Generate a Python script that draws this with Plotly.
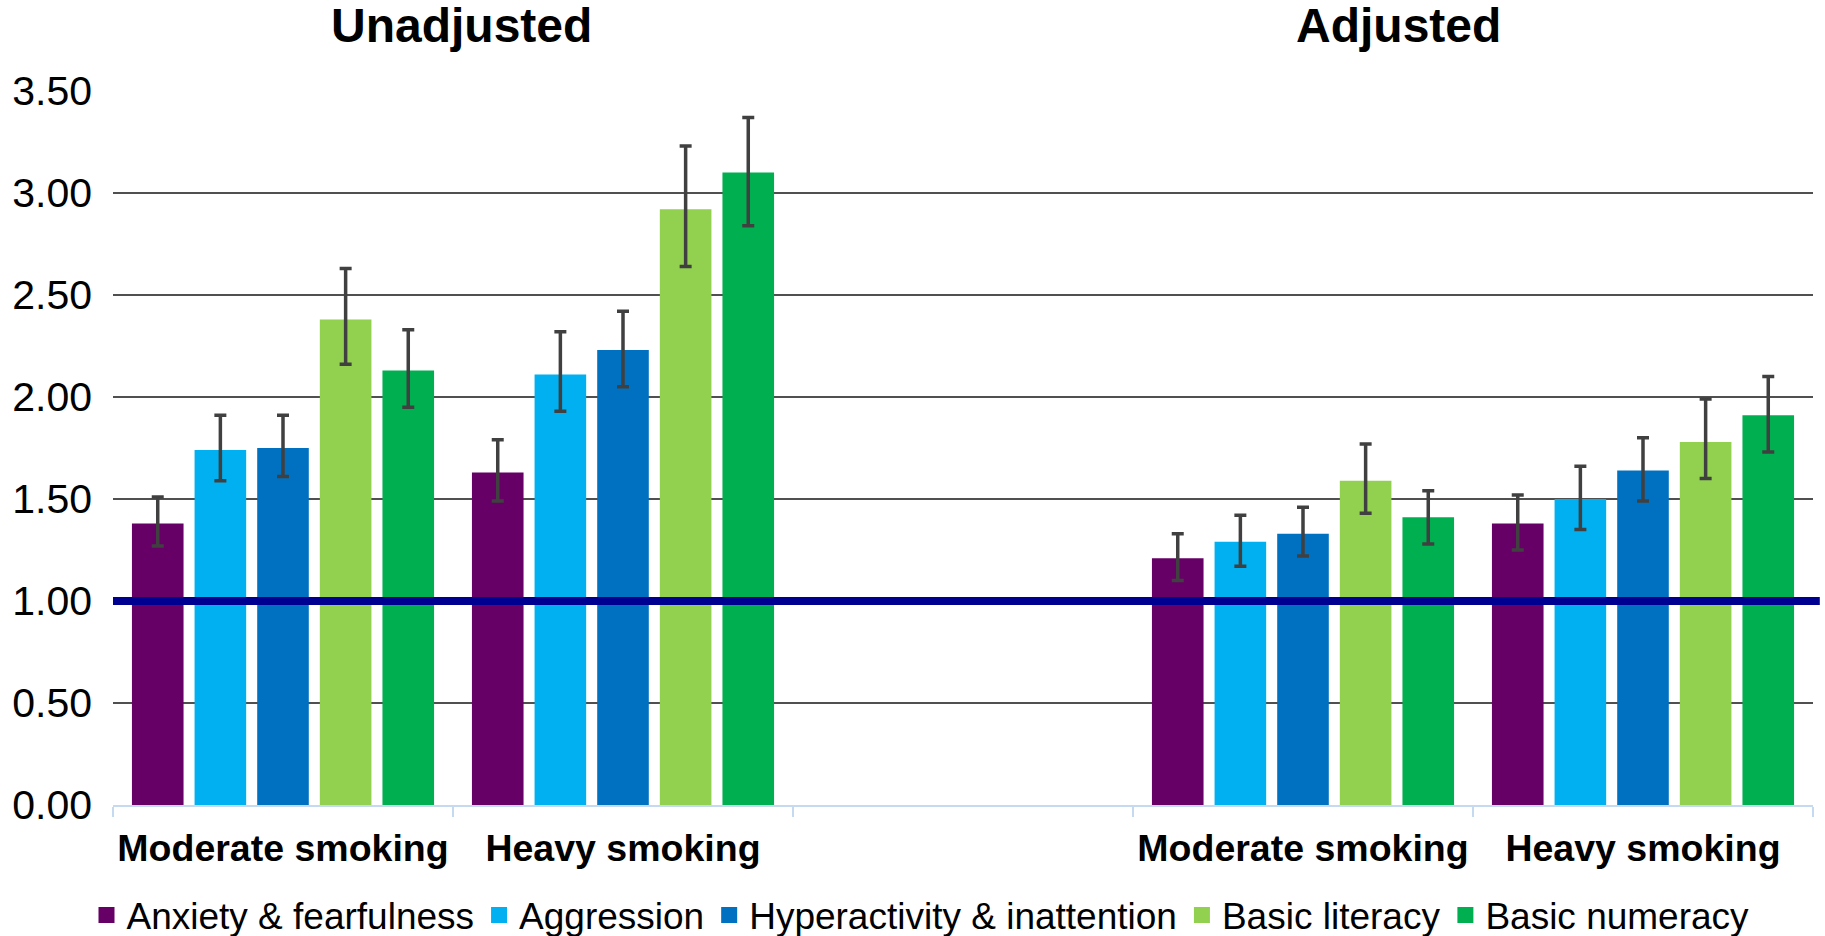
import plotly.graph_objects as go

# Groups along the x axis: unadjusted (moderate, heavy), an empty slot, adjusted (moderate, heavy)
group_labels = ["Moderate smoking", "Heavy smoking", "Moderate smoking", "Heavy smoking"]
group_pos = [0, 1, 3, 4]
panel_titles = ["Unadjusted", "Adjusted"]

series_names = [
    "Anxiety & fearfulness",
    "Aggression",
    "Hyperactivity & inattention",
    "Basic literacy",
    "Basic numeracy",
]
series_colors = ["#660066", "#00B0F0", "#0070C0", "#92D050", "#00B050"]

# Odds ratios with lower / upper confidence limits
anxiety = [1.38, 1.63, 1.21, 1.38]
anxiety_lo = [1.27, 1.49, 1.10, 1.25]
anxiety_hi = [1.51, 1.79, 1.33, 1.52]

aggression = [1.74, 2.11, 1.29, 1.50]
aggression_lo = [1.59, 1.93, 1.17, 1.35]
aggression_hi = [1.91, 2.32, 1.42, 1.66]

hyperactivity = [1.75, 2.23, 1.33, 1.64]
hyperactivity_lo = [1.61, 2.05, 1.22, 1.49]
hyperactivity_hi = [1.91, 2.42, 1.46, 1.80]

literacy = [2.38, 2.92, 1.59, 1.78]
literacy_lo = [2.16, 2.64, 1.43, 1.60]
literacy_hi = [2.63, 3.23, 1.77, 1.99]

numeracy = [2.13, 3.10, 1.41, 1.91]
numeracy_lo = [1.95, 2.84, 1.28, 1.73]
numeracy_hi = [2.33, 3.37, 1.54, 2.10]

reference_or = 1.0
y_ticks = [0, 0.5, 1.0, 1.5, 2.0, 2.5, 3.0, 3.5]

values = [anxiety, aggression, hyperactivity, literacy, numeracy]
lows = [anxiety_lo, aggression_lo, hyperactivity_lo, literacy_lo, numeracy_lo]
highs = [anxiety_hi, aggression_hi, hyperactivity_hi, literacy_hi, numeracy_hi]

FONT = "Liberation Sans, Arial, sans-serif"

fig = go.Figure()
for name, color, v, lo, hi in zip(series_names, series_colors, values, lows, highs):
    fig.add_trace(go.Bar(
        x=group_pos,
        y=v,
        name=name,
        legendgroup=name,
        showlegend=False,
        marker=dict(color=color, line=dict(width=0)),
        error_y=dict(
            type="data",
            symmetric=False,
            array=[h - m for h, m in zip(hi, v)],
            arrayminus=[m - l for m, l in zip(v, lo)],
            color="#404040",
            thickness=3.5,
            width=6,
        ),
    ))

# Legend entries with larger square swatches
for name, color in zip(series_names, series_colors):
    fig.add_trace(go.Scatter(
        x=[None], y=[None], mode="markers", name=name, legendgroup=name,
        marker=dict(symbol="square", size=18, color=color),
    ))

# Reference line at OR = 1
fig.add_shape(
    type="line", xref="paper", yref="y",
    x0=0, x1=1.004, y0=reference_or, y1=reference_or,
    line=dict(color="#000090", width=8), layer="above",
)

# Panel titles
for text, xc in zip(panel_titles, [0.205, 0.756]):
    fig.add_annotation(
        text=f"<b>{text}</b>", xref="paper", yref="paper",
        x=xc, y=1.092, xanchor="center", yanchor="middle",
        showarrow=False, font=dict(size=48, color="black", family=FONT),
    )

fig.update_layout(
    width=1825, height=936, autosize=False,
    margin=dict(l=113, r=12, t=91, b=131, autoexpand=False),
    paper_bgcolor="white", plot_bgcolor="white",
    barmode="group", bargap=0.079, bargroupgap=0.176,
    font=dict(family=FONT, color="black"),
    showlegend=True,
    legend=dict(
        orientation="h", x=0.475, xanchor="center",
        yref="container", y=0.022, yanchor="middle",
        font=dict(size=37, family=FONT, color="black"),
        itemsizing="trace", tracegroupgap=0, itemwidth=30,
        bgcolor="rgba(0,0,0,0)",
    ),
)

fig.update_xaxes(
    range=[-0.5, 4.5], automargin=False,
    tickmode="array", tickvals=group_pos,
    ticktext=[f"<b>{t}</b>" for t in group_labels],
    tickfont=dict(size=37.5, family=FONT, color="black"),
    ticks="", showgrid=False, zeroline=False,
    showline=True, linecolor="#C5D9F1", linewidth=2,
    ticklabelstandoff=9,
    minor=dict(tickmode="linear", tick0=-0.5, dtick=1, ticks="outside",
               ticklen=10, tickwidth=2, tickcolor="#C5D9F1", showgrid=False),
)

fig.update_yaxes(
    range=[0, 3.5], automargin=False,
    tickmode="array", tickvals=y_ticks,
    ticktext=[f"{v:.2f}" for v in y_ticks],
    tickfont=dict(size=41, family=FONT, color="black"),
    showgrid=True, gridcolor="#505050", gridwidth=2,
    zeroline=False, showline=False, ticks="",
    ticklabelstandoff=20,
)

fig.write_html("out.html")
